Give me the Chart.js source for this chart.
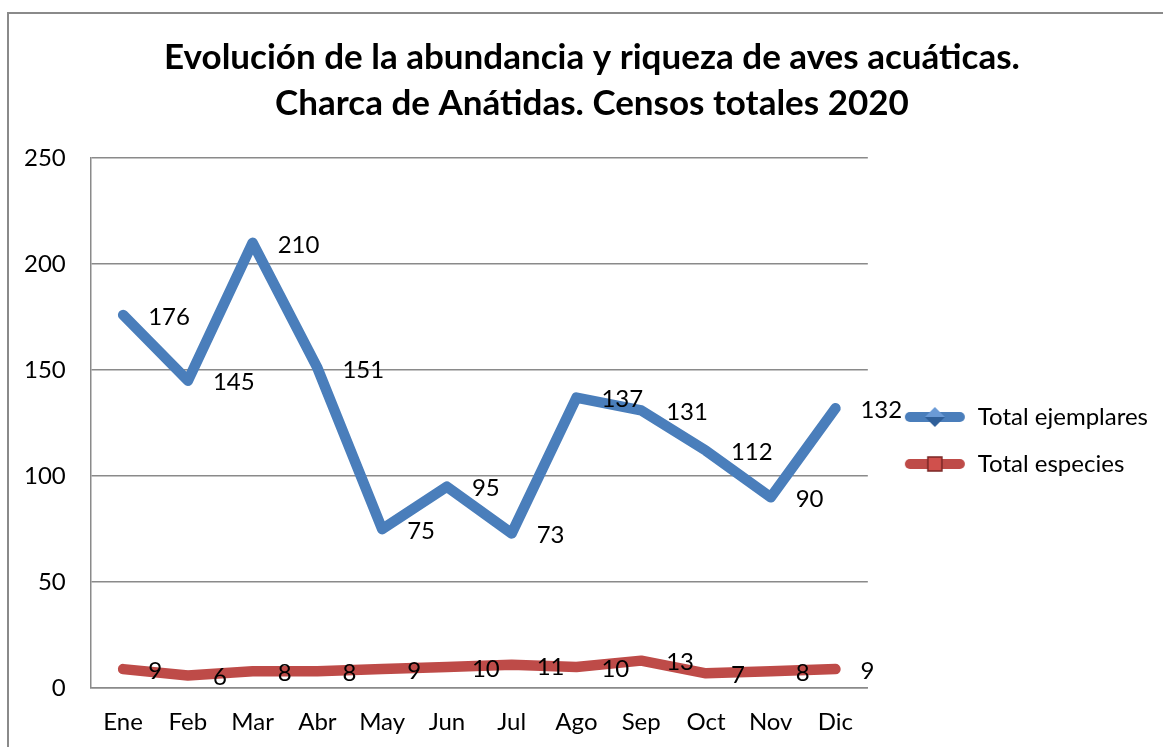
<!DOCTYPE html>
<html>
<head>
<meta charset="utf-8">
<script src="https://cdn.jsdelivr.net/npm/chart.js@4.4.1/dist/chart.umd.min.js"></script>
<style>
	body { margin: 0; background: #fff; }
	#wrap { position: relative; width: 1163px; height: 747px; overflow: hidden; }
	#frame { position: absolute; left: 7px; top: 12px; width: 1200px; height: 800px; border-left: 2px solid #8a8a8a; border-top: 2px solid #8a8a8a; }
	canvas { position: absolute; left: 0; top: 0; }
</style>
</head>
<body>
<div id="wrap">
	<div id="frame"></div>
	<canvas id="aves-chart" width="1163" height="747"></canvas>
</div>
<script>
const meses = ['Ene', 'Feb', 'Mar', 'Abr', 'May', 'Jun', 'Jul', 'Ago', 'Sep', 'Oct', 'Nov', 'Dic'];
const totalEjemplares = [176, 145, 210, 151, 75, 95, 73, 137, 131, 112, 90, 132];
const totalEspecies = [9, 6, 8, 8, 9, 10, 11, 10, 13, 7, 8, 9];
const yTicks = [0, 50, 100, 150, 200, 250];

const FONT = 'Lato, "Open Sans", sans-serif';

document.addEventListener('DOMContentLoaded', (event) => {
	avesChart();
});

function legendIcon(color, dark, shape) {
	const c = document.createElement('canvas');
	c.width = 62;
	c.height = 22;
	const g = c.getContext('2d');
	g.strokeStyle = color;
	g.lineWidth = 10;
	g.lineCap = 'round';
	g.beginPath();
	g.moveTo(6, 11);
	g.lineTo(56, 11);
	g.stroke();

	if (shape === 'diamond') {
		g.fillStyle = '#6a9ad6';
		g.beginPath();
		g.moveTo(31, 1);
		g.lineTo(41, 11);
		g.lineTo(21, 11);
		g.closePath();
		g.fill();
		g.fillStyle = dark;
		g.beginPath();
		g.moveTo(21, 11);
		g.lineTo(41, 11);
		g.lineTo(31, 21);
		g.closePath();
		g.fill();
	} else {
		g.fillStyle = '#d0504c';
		g.fillRect(24, 4, 14, 14);
		g.strokeStyle = dark;
		g.lineWidth = 1.5;
		g.strokeRect(24, 4, 14, 14);
	}
	return c;
}

const valueLabels = {
	id: 'valueLabels',
	afterDatasetsDraw(chart) {
		const ctx = chart.ctx;
		ctx.save();
		ctx.font = '24px ' + FONT;
		ctx.fillStyle = '#000';
		ctx.textAlign = 'left';
		ctx.textBaseline = 'middle';
		chart.data.datasets.forEach((ds, i) => {
			chart.getDatasetMeta(i).data.forEach((pt, j) => {
				ctx.fillText(ds.data[j], pt.x + 25, pt.y + 2);
			});
		});
		ctx.restore();
	},
};

// move legend and title a bit, the original is not laid out symmetrically
const nudgeBoxes = {
	id: 'nudgeBoxes',
	afterLayout(chart) {
		const lg = chart.legend;
		if (lg) {
			lg.top += 62;
			lg.bottom += 62;
			lg.left += 13;
			lg.right += 13;
		}
		const tt = chart.titleBlock;
		if (tt) {
			tt.left += 20;
			tt.right += 20;
		}
	},
};

function avesChart() {
	const ctx = document.getElementById('aves-chart');

	if (!ctx) {
		return;
	}

	new Chart(ctx, {
		type: 'line',
		data: {
			labels: meses,
			datasets: [
				{
					label: 'Total ejemplares',
					data: totalEjemplares,
					borderColor: '#4a7ebb',
					backgroundColor: '#4a7ebb',
					pointStyle: legendIcon('#4a7ebb', '#2f5f99', 'diamond'),
				},
				{
					label: 'Total especies',
					data: totalEspecies,
					borderColor: '#be4b48',
					backgroundColor: '#be4b48',
					pointStyle: legendIcon('#be4b48', '#7a2624', 'square'),
				},
			],
		},
		options: {
			responsive: false,
			animation: false,
			layout: {
				padding: { left: -1, right: 18, top: 0, bottom: -10 },
			},
			elements: {
				line: {
					borderWidth: 10.5,
					borderCapStyle: 'round',
					borderJoinStyle: 'round',
					tension: 0,
				},
				point: {
					radius: 0,
					hoverRadius: 0,
				},
			},
			plugins: {
				title: {
					display: true,
					text: ['Evolución de la abundancia y riqueza de aves acuáticas.', 'Charca de Anátidas. Censos totales 2020'],
					color: '#000',
					font: { family: FONT, size: 35, weight: 'bold', lineHeight: 1.314 },
					padding: { top: 35, bottom: 31 },
				},
				legend: {
					position: 'right',
					labels: {
						usePointStyle: true,
						pointStyleWidth: 62,
						color: '#000',
						font: { family: FONT, size: 24 },
						padding: 23,
					},
				},
				tooltip: { enabled: false },
			},
			scales: {
				y: {
					min: 0,
					max: 250,
					afterBuildTicks: (axis) => {
						axis.ticks = yTicks.map((v) => ({ value: v }));
					},
					ticks: {
						color: '#000',
						font: { family: FONT, size: 24 },
						padding: 25,
					},
					grid: {
						color: '#8a8a8a',
						lineWidth: 1.5,
						drawTicks: false,
					},
					border: {
						color: '#8a8a8a',
						width: 1.5,
					},
				},
				x: {
					offset: true,
					ticks: {
						color: '#000',
						font: { family: FONT, size: 24 },
						padding: 20,
					},
					grid: {
						display: false,
						drawTicks: false,
					},
					border: {
						color: '#8a8a8a',
						width: 1.5,
					},
				},
			},
		},
		plugins: [valueLabels, nudgeBoxes],
	});
}
</script>
</body>
</html>
